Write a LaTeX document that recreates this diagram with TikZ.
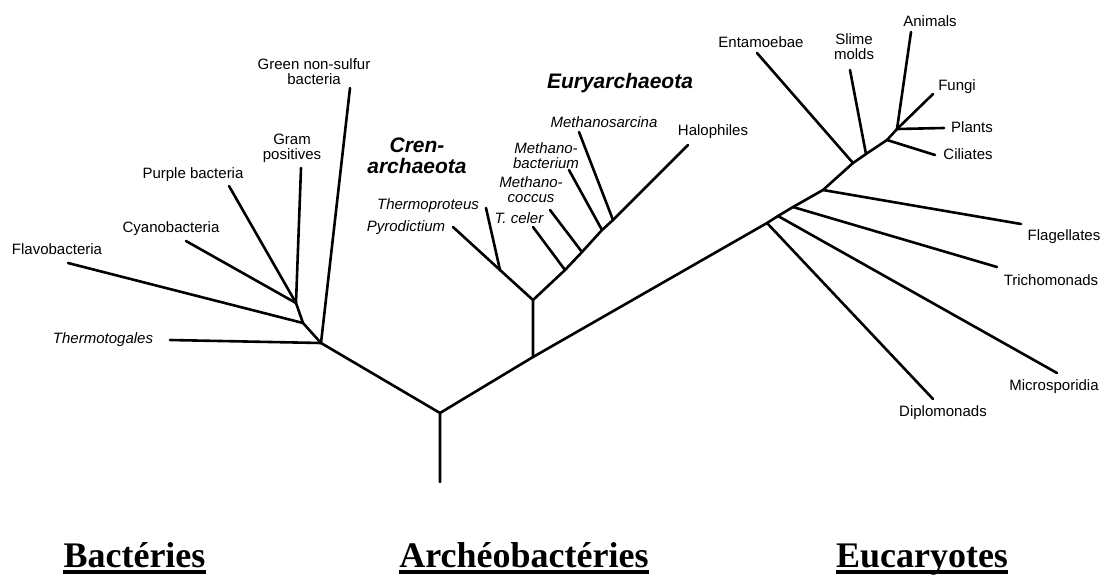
\documentclass[tikz,border=0pt]{standalone}
\usepackage{fontspec}
\setmainfont{Liberation Serif}
\newfontfamily\taxfont{Liberation Sans}
\usetikzlibrary{positioning}

\tikzset{
  branch/.style={line width=2.6pt,line cap=round,line join=round},
  taxon/.style={font=\taxfont\fontsize{15}{15}\selectfont,align=center,inner sep=0pt},
  itaxon/.style={taxon,font=\taxfont\itshape\fontsize{15}{15}\selectfont},
  clade/.style={font=\taxfont\bfseries\itshape\fontsize{21}{21}\selectfont,align=center,inner sep=0pt},
  kingdom/.style={font=\bfseries\fontsize{36}{36}\selectfont,inner sep=0pt,anchor=base},
  uline/.style={line width=4pt}
}

\begin{document}
\begin{tikzpicture}[x=1pt,y=-1pt]
  \useasboundingbox (0,0) rectangle (1107,574);

  % inner points of the tree
  \coordinate (base) at (440,482);
  \coordinate (root) at (440,413);
  \coordinate (bact) at (321,343);
  \coordinate (b1) at (303,323);
  \coordinate (b2) at (296,303);
  \coordinate (arch) at (533,357);
  \coordinate (arch2) at (533,300);
  \coordinate (cren) at (500,270);
  \coordinate (eu1) at (565,270);
  \coordinate (eu2) at (582,252);
  \coordinate (eu3) at (602,230);
  \coordinate (eu4) at (613,220);
  \coordinate (k1) at (767,223);
  \coordinate (k2) at (778,216);
  \coordinate (k3) at (793,207);
  \coordinate (k4) at (823,190);
  \coordinate (k5) at (853,163);
  \coordinate (k6) at (866,154);
  \coordinate (k7) at (887,140);
  \coordinate (crown) at (897,129);

  % tips
  \coordinate (t-thermotog) at (170,340);
  \coordinate (t-green) at (350,88);
  \coordinate (t-flavo) at (68,263);
  \coordinate (t-cyano) at (186,241);
  \coordinate (t-purple) at (229,186);
  \coordinate (t-gram) at (301,168);
  \coordinate (t-pyro) at (453,227);
  \coordinate (t-thermoprot) at (486,208);
  \coordinate (t-celer) at (533,227);
  \coordinate (t-mcoccus) at (550,210);
  \coordinate (t-mbact) at (569,170);
  \coordinate (t-msarc) at (579,132);
  \coordinate (t-halo) at (688,145);
  \coordinate (t-diplo) at (933,399);
  \coordinate (t-micro) at (1057,373);
  \coordinate (t-tricho) at (997,267);
  \coordinate (t-flag) at (1021,224);
  \coordinate (t-entam) at (757,53);
  \coordinate (t-slime) at (850,70);
  \coordinate (t-cil) at (935,155);
  \coordinate (t-animal) at (911,32);
  \coordinate (t-fungi) at (933,94);
  \coordinate (t-plant) at (944,128);

  % labels
  \node[itaxon] (thermotog) at (103,340) {Thermotogales};
  \node[taxon] (green) at (314,72) {Green non-sulfur\\bacteria};
  \node[taxon] (flavo) at (57,249) {Flavobacteria};
  \node[taxon] (cyano) at (171,229) {Cyanobacteria};
  \node[taxon] (purple) at (193,175) {Purple bacteria};
  \node[taxon] (gram) at (292,148) {Gram\\positives};
  \node[clade] (crenarch) at (417,156) {Cren-\\archaeota};
  \node[clade] (euryarch) at (620,83) {Euryarchaeota};
  \node[itaxon] (thermoprot) at (428,206) {Thermoproteus};
  \node[itaxon] (pyro) at (406,228) {Pyrodictium};
  \node[itaxon] (celer) at (519,218) {T. celer};
  \node[itaxon] (mcoccus) at (531,190) {Methano-\\coccus};
  \node[itaxon] (mbact) at (546,156) {Methano-\\bacterium};
  \node[itaxon] (msarc) at (604,122) {Methanosarcina};
  \node[taxon] (halo) at (713,132) {Halophiles};
  \node[taxon] (entam) at (761,42) {Entamoebae};
  \node[taxon] (slime) at (854,47) {Slime\\molds};
  \node[taxon] (animal) at (930,21) {Animals};
  \node[taxon] (fungi) at (957,87) {Fungi};
  \node[taxon] (plant) at (972,127) {Plants};
  \node[taxon] (cil) at (968,154) {Ciliates};
  \node[taxon] (flag) at (1064,237) {Flagellates};
  \node[taxon] (tricho) at (1051,280) {Trichomonads};
  \node[taxon] (micro) at (1054,387) {Microsporidia};
  \node[taxon] (diplo) at (943,413) {Diplomonads};

  % trunk
  \draw[branch] (base) -- (root) -- (bact) -- (b1) -- (b2);
  \draw[branch] (root) -- (arch) -- (k1) -- (k2) -- (k3) -- (k4) -- (k5) -- (k6) -- (k7) -- (crown);
  \draw[branch] (arch) -- (arch2) -- (cren);
  \draw[branch] (arch2) -- (eu1) -- (eu2) -- (eu3) -- (eu4) -- (t-halo);

  % leaves
  \path[branch]
    (bact) edge (t-thermotog)
           edge (t-green)
    (b1) edge (t-flavo)
    (b2) edge (t-cyano)
         edge (t-purple)
         edge (t-gram)
    (cren) edge (t-pyro)
           edge (t-thermoprot)
    (eu1) edge (t-celer)
    (eu2) edge (t-mcoccus)
    (eu3) edge (t-mbact)
    (eu4) edge (t-msarc)
    (k1) edge (t-diplo)
    (k2) edge (t-micro)
    (k3) edge (t-tricho)
    (k4) edge (t-flag)
    (k5) edge (t-entam)
    (k6) edge (t-slime)
    (k7) edge (t-cil)
    (crown) edge (t-animal)
            edge (t-fungi)
            edge (t-plant);

  % kingdoms
  \node[kingdom] (k-bact) at (134.5,567) {Bactéries};
  \node[kingdom] (k-arch) at (524,567) {Archéobactéries};
  \node[kingdom] (k-euk) at (922,567) {Eucaryotes};
  \foreach \d in {k-bact,k-arch,k-euk}
    \draw[uline] ([yshift=-4.5pt]\d.base west) -- ([yshift=-4.5pt]\d.base east);
\end{tikzpicture}
\end{document}
